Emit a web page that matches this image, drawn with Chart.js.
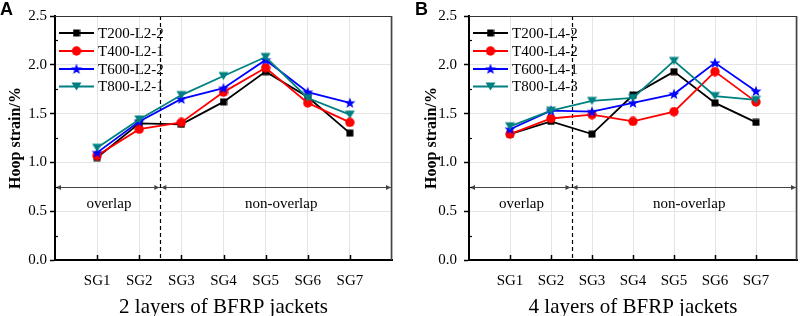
<!doctype html>
<html lang="en">
<head>
  <meta charset="utf-8">
  <title>Hoop strain of BFRP jackets</title>
  <script src="https://cdn.jsdelivr.net/npm/chart.js@4"></script>
  <style>
    body { margin: 0; background: #fff; }
    .panel { position: absolute; top: 0; }
    #panelA { left: 0; }
    #panelB { left: 404px; }
  </style>
</head>
<body>
  <div class="panel" id="panelA"><canvas id="chartA" width="404" height="316"></canvas></div>
  <div class="panel" id="panelB"><canvas id="chartB" width="405" height="316"></canvas></div>

  <script>
    // Strain gauge positions
    var gauges = ['SG1', 'SG2', 'SG3', 'SG4', 'SG5', 'SG6', 'SG7'];

    // Panel A: 2 layers
    var namesA = ['T200-L2-2', 'T400-L2-1', 'T600-L2-2', 'T800-L2-1'];
    var t200A = [1.05, 1.40, 1.39, 1.62, 1.93, 1.67, 1.30];
    var t400A = [1.07, 1.34, 1.41, 1.72, 1.97, 1.61, 1.41];
    var t600A = [1.10, 1.42, 1.65, 1.76, 2.05, 1.72, 1.61];
    var t800A = [1.15, 1.44, 1.69, 1.885, 2.08, 1.66, 1.49];

    // Panel B: 4 layers
    var namesB = ['T200-L4-2', 'T400-L4-2', 'T600-L4-1', 'T800-L4-3'];
    var t200B = [1.29, 1.42, 1.29, 1.69, 1.93, 1.61, 1.41];
    var t400B = [1.29, 1.45, 1.49, 1.42, 1.52, 1.93, 1.62];
    var t600B = [1.34, 1.53, 1.52, 1.61, 1.70, 2.02, 1.73];
    var t800B = [1.37, 1.53, 1.63, 1.66, 2.04, 1.68, 1.64];

    var yTicks = [0, 0.5, 1.0, 1.5, 2.0, 2.5];
    var regionNames = ['overlap', 'non-overlap'];

    var serif = '"Liberation Serif", "Times New Roman", serif';
    var colors = ['#000000', '#ff0000', '#0000ff', '#008080'];

    function makeMarker(shape, color) {
      var c = document.createElement('canvas');
      var s = { square: 8, circle: 10, star: 12, tri: 11 }[shape];
      c.width = s; c.height = s;
      var g = c.getContext('2d');
      g.fillStyle = color;
      g.beginPath();
      if (shape == 'square') {
        g.rect(0.5, 0.5, 7, 7);
      } else if (shape == 'circle') {
        g.arc(5, 5, 4.7, 0, Math.PI * 2);
      } else if (shape == 'star') {
        for (var i = 0; i < 10; i++) {
          var r = (i % 2 == 0) ? 5.8 : 2.4;
          var a = -Math.PI / 2 + i * Math.PI / 5;
          var px = 6 + r * Math.cos(a), py = 6.4 + r * Math.sin(a);
          if (i == 0) g.moveTo(px, py); else g.lineTo(px, py);
        }
        g.closePath();
      } else {
        g.moveTo(0.5, 1.5); g.lineTo(10.5, 1.5); g.lineTo(5.5, 9.5);
        g.closePath();
      }
      g.fill();
      return c;
    }

    var markers = [
      makeMarker('square', colors[0]),
      makeMarker('circle', colors[1]),
      makeMarker('star', colors[2]),
      makeMarker('tri', colors[3])
    ];

    function toPoints(arr) {
      return arr.map(function (v, i) { return { x: i + 1, y: v }; });
    }

    function arrowHead(ctx, x, y, dir) {
      ctx.beginPath();
      ctx.moveTo(x, y);
      ctx.lineTo(x - dir * 5, y - 2.5);
      ctx.lineTo(x - dir * 5, y + 2.5);
      ctx.closePath();
      ctx.fill();
    }

    // Frame, dashed divider, region arrows, ticks, legend and panel letter
    var decor = {
      id: 'decor',
      beforeDatasetsDraw: function (chart) {
        var ctx = chart.ctx, a = chart.chartArea;
        var xs = chart.scales.x, ys = chart.scales.y;
        ctx.save();
        // region arrow line at y = 0.75
        var yy = Math.round(ys.getPixelForValue(0.75)) + 0.5;
        var xd = xs.getPixelForValue(2.5);
        ctx.strokeStyle = '#444'; ctx.fillStyle = '#444'; ctx.lineWidth = 1;
        ctx.beginPath(); ctx.moveTo(a.left, yy); ctx.lineTo(a.right, yy); ctx.stroke();
        arrowHead(ctx, a.left + 1, yy, -1);
        arrowHead(ctx, xd - 1, yy, 1);
        arrowHead(ctx, xd + 1, yy, -1);
        arrowHead(ctx, a.right - 1, yy, 1);
        // region labels
        ctx.fillStyle = '#000';
        ctx.font = '15px ' + serif;
        ctx.textAlign = 'center'; ctx.textBaseline = 'middle';
        ctx.fillText(regionNames[0], xs.getPixelForValue(1.28), ys.getPixelForValue(0.575));
        ctx.fillText(regionNames[1], xs.getPixelForValue(5.37), ys.getPixelForValue(0.575));
        // dashed divider
        ctx.strokeStyle = '#000'; ctx.lineWidth = 1.2;
        ctx.setLineDash([4, 3]);
        ctx.beginPath(); ctx.moveTo(Math.round(xd) + 0.5, a.top); ctx.lineTo(Math.round(xd) + 0.5, a.bottom); ctx.stroke();
        ctx.setLineDash([]);
        // top and right frame
        ctx.strokeStyle = '#333'; ctx.lineWidth = 1.2;
        ctx.beginPath(); ctx.moveTo(a.left, a.top + 0.5); ctx.lineTo(a.right, a.top + 0.5); ctx.stroke();
        ctx.lineWidth = 1.6; ctx.strokeStyle = '#444';
        ctx.beginPath(); ctx.moveTo(a.right - 0.5, a.top); ctx.lineTo(a.right - 0.5, a.bottom); ctx.stroke();
        // inward ticks on x, minor inward ticks on y
        ctx.strokeStyle = '#000'; ctx.lineWidth = 1.5;
        for (var i = 1; i <= gauges.length; i++) {
          var px = Math.round(xs.getPixelForValue(i)) + 0.5;
          ctx.beginPath(); ctx.moveTo(px, a.bottom); ctx.lineTo(px, a.bottom - 5); ctx.stroke();
        }
        ctx.lineWidth = 1.2;
        for (var v = 0.25; v < 2.5; v += 0.5) {
          var py = Math.round(ys.getPixelForValue(v)) + 0.5;
          ctx.beginPath(); ctx.moveTo(a.left, py); ctx.lineTo(a.left + 3, py); ctx.stroke();
        }
        ctx.restore();
      },
      afterDatasetsDraw: function (chart, args, opts) {
        var ctx = chart.ctx, a = chart.chartArea;
        ctx.save();
        var rows = [17, 35, 53, 70.5];
        chart.data.datasets.forEach(function (ds, i) {
          var y = a.top + rows[i];
          ctx.strokeStyle = ds.borderColor; ctx.lineWidth = 1.8;
          ctx.beginPath(); ctx.moveTo(a.left + 4, y); ctx.lineTo(a.left + 39, y); ctx.stroke();
          var m = ds.pointStyle;
          ctx.drawImage(m, a.left + 21.5 - m.width / 2, y - m.height / 2);
          ctx.fillStyle = '#000';
          ctx.font = '15px ' + serif;
          ctx.textAlign = 'left'; ctx.textBaseline = 'middle';
          ctx.fillText(ds.label, a.left + 43, y + 1);
        });
        // panel letter
        ctx.fillStyle = '#000';
        ctx.font = 'bold 18px "Liberation Sans", Arial, sans-serif';
        ctx.textAlign = 'left'; ctx.textBaseline = 'top';
        ctx.fillText(opts.letter, opts.letterX, 1);
        ctx.restore();
      }
    };

    function buildChart(id, p) {
      var series = p.series.map(function (arr, i) {
        return {
          label: p.names[i],
          data: toPoints(arr),
          borderColor: colors[i],
          backgroundColor: colors[i],
          borderWidth: 1.8,
          pointStyle: markers[i],
          pointRadius: 5,
          order: 3 - i
        };
      });

      return new Chart(document.getElementById(id), {
        type: 'line',
        data: { datasets: series },
        plugins: [decor],
        options: {
          responsive: false,
          animation: false,
          devicePixelRatio: 1,
          layout: { padding: { left: 0, right: p.rightPad, top: 16, bottom: 0 } },
          plugins: {
            legend: { display: false },
            tooltip: { enabled: false },
            decor: { letter: p.letter, letterX: p.letterX }
          },
          scales: {
            x: {
              type: 'linear',
              min: 0, max: 8,
              afterFit: function (s) { s.height = 56; },
              afterBuildTicks: function (s) {
                s.ticks = [0, 1, 2, 3, 4, 5, 6, 7, 8].map(function (v) { return { value: v }; });
              },
              ticks: {
                autoSkip: false, maxRotation: 0, padding: 12,
                color: '#000',
                font: { family: serif, size: 15 },
                callback: function (v) { return (v >= 1 && v <= gauges.length) ? gauges[v - 1] : ''; }
              },
              grid: { color: '#e4e4e4', lineWidth: 1, drawTicks: false },
              border: { display: true, color: '#000', width: 2 },
              title: {
                display: true, text: p.xTitle, color: '#000',
                font: { family: serif, size: 21 },
                padding: { top: 0, bottom: -4 }
              }
            },
            y: {
              min: 0, max: 2.5,
              afterFit: function (s) { s.width = p.yWidth; },
              afterBuildTicks: function (s) {
                s.ticks = yTicks.map(function (v) { return { value: v }; });
              },
              ticks: {
                padding: p.yTickPad, color: '#000',
                font: { family: serif, size: 15 },
                callback: function (v) { return v.toFixed(1); }
              },
              grid: { color: '#e4e4e4', lineWidth: 1, tickLength: 5, tickColor: '#000', tickWidth: 1.5 },
              border: { display: true, color: '#000', width: 2 },
              title: {
                display: true, text: 'Hoop strain/%', color: '#000',
                font: { family: serif, size: 16, weight: 'bold' },
                padding: { top: p.yTitlePad, bottom: 0 }
              }
            }
          }
        }
      });
    }

    buildChart('chartA', {
      names: namesA, series: [t200A, t400A, t600A, t800A],
      xTitle: '2 layers of BFRP jackets', letter: 'A', letterX: 0,
      yWidth: 55, rightPad: 12, yTickPad: 3, yTitlePad: 6
    });

    buildChart('chartB', {
      names: namesB, series: [t200B, t400B, t600B, t800B],
      xTitle: '4 layers of BFRP jackets', letter: 'B', letterX: 11,
      yWidth: 65, rightPad: 1, yTickPad: 7, yTitlePad: 18
    });
  </script>
</body>
</html>
